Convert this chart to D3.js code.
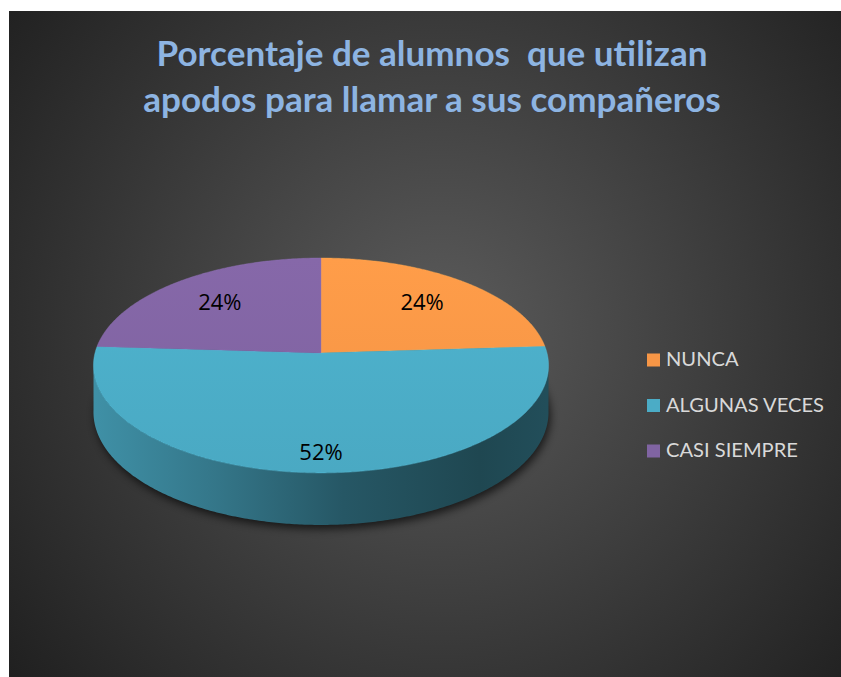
<!DOCTYPE html>
<html>
<head>
<meta charset="utf-8">
<script src="https://cdn.jsdelivr.net/npm/d3@7"></script>
<style>
  body { margin: 0; background: #fff; }
  svg { display: block; }
</style>
</head>
<body>
<svg id="chart" width="841" height="677"></svg>
<script>
// data
var categories = ["NUNCA", "ALGUNAS VECES", "CASI SIEMPRE"];
var values = [24, 52, 24];
var colors = ["#F79646", "#4BACC6", "#8064A2"];
var titleLines = ["Porcentaje de alumnos  que utilizan", "apodos para llamar a sus compañeros"];

var svg = d3.select("#chart");
var defs = svg.append("defs");

// panel background
var bg = defs.append("radialGradient")
  .attr("id", "bg")
  .attr("gradientUnits", "userSpaceOnUse")
  .attr("cx", 440).attr("cy", 330).attr("r", 560);
bg.append("stop").attr("offset", "0").attr("stop-color", "#5b5b5b");
bg.append("stop").attr("offset", "0.55").attr("stop-color", "#3a3a3a");
bg.append("stop").attr("offset", "1").attr("stop-color", "#1f1f1f");

svg.append("rect")
  .attr("x", 9).attr("y", 11)
  .attr("width", 832).attr("height", 666)
  .attr("fill", "url(#bg)");

// title
var title = svg.append("g")
  .attr("font-family", "Lato, 'Open Sans', sans-serif")
  .attr("font-weight", "bold")
  .attr("fill", "#8DB4E2")
  .attr("text-anchor", "middle");

var titleText = title.selectAll("text")
  .data(titleLines)
  .enter().append("text")
  .attr("x", 432)
  .attr("y", function(d, i) { return 66 + i * 46; })
  .style("white-space", "pre")
  .attr("font-size", 32)
  .text(function(d) { return d; });

// fit title size to the width of the original lines
var w0 = titleText.nodes()[0].getComputedTextLength();
var w1 = titleText.nodes()[1].getComputedTextLength();
var titleSize = 32 * ((549 / w0 + 580 / w1) / 2);
titleText.attr("font-size", titleSize);

// 3d pie projection (simple perspective on a tilted disc)
var cx = 321, cy = 353, A = 226, B = 106, k = 0.116, H = 46;

function proj(theta, r) {
  var sx = r * Math.sin(theta), sz = -r * Math.cos(theta);
  var w = 1 / (1 - k * sz);
  return [cx + A * sx * w, cy + B * sz * w, w];
}

function arcPoints(a0, a1, r, drop) {
  var n = Math.max(2, Math.ceil(Math.abs(a1 - a0) / 0.01));
  var pts = [];
  for (var i = 0; i <= n; i++) {
    var t = a0 + (a1 - a0) * i / n;
    var p = proj(t, r);
    pts.push([p[0], p[1] + (drop ? H * p[2] : 0)]);
  }
  return pts;
}

var line = d3.line();

var pie = d3.pie().sort(null).value(function(d) { return d; });
var arcs = pie(values);
var total = d3.sum(values);

// shadow under the pie
var blur = defs.append("filter").attr("id", "blur")
  .attr("x", "-20%").attr("y", "-20%").attr("width", "140%").attr("height", "140%");
blur.append("feGaussianBlur").attr("stdDeviation", 4);

svg.append("path")
  .attr("d", line(arcPoints(0, 2 * Math.PI, 1, true)) + "Z")
  .attr("transform", "translate(2,4)")
  .attr("fill", "#000")
  .attr("opacity", 0.65)
  .attr("filter", "url(#blur)");

// side walls (front half only)
var sideFrom = Math.acos(-k) - 0.02;
var sideTo = 2 * Math.PI - sideFrom;

arcs.forEach(function(d, i) {
  var a0 = Math.max(d.startAngle, sideFrom);
  var a1 = Math.min(d.endAngle, sideTo);
  if (a1 <= a0) return;
  var base = d3.color(colors[i]);
  var g = defs.append("linearGradient")
    .attr("id", "side" + i)
    .attr("gradientUnits", "userSpaceOnUse")
    .attr("x1", cx - A).attr("x2", cx + A).attr("y1", 0).attr("y2", 0);
  g.append("stop").attr("offset", "0").attr("stop-color", base.darker(0.5));
  g.append("stop").attr("offset", "0.25").attr("stop-color", base.darker(1.0));
  g.append("stop").attr("offset", "0.55").attr("stop-color", base.darker(1.9));
  g.append("stop").attr("offset", "0.85").attr("stop-color", base.darker(2.5));
  g.append("stop").attr("offset", "1").attr("stop-color", base.darker(2.2));

  var top = arcPoints(a0, a1, 1, false);
  var bot = arcPoints(a1, a0, 1, true);
  svg.append("path")
    .attr("d", line(top.concat(bot)) + "Z")
    .attr("fill", "url(#side" + i + ")");
});

// top faces
arcs.forEach(function(d, i) {
  var base = d3.color(colors[i]);
  var g = defs.append("linearGradient")
    .attr("id", "top" + i)
    .attr("gradientUnits", "userSpaceOnUse")
    .attr("x1", 0).attr("x2", 0).attr("y1", cy - 95).attr("y2", cy + 120);
  g.append("stop").attr("offset", "0").attr("stop-color", base.brighter(0.12));
  g.append("stop").attr("offset", "1").attr("stop-color", base.darker(0.05));

  var pts = [[cx, cy]].concat(arcPoints(d.startAngle, d.endAngle, 1, false));
  svg.append("path")
    .attr("d", line(pts) + "Z")
    .attr("fill", "url(#top" + i + ")")
    .attr("stroke", base.brighter(0.4))
    .attr("stroke-opacity", 0.5)
    .attr("stroke-width", 0.8)
    .attr("stroke-linejoin", "round");
});

// data labels
svg.append("g")
  .attr("font-family", "'Open Sans', sans-serif")
  .attr("font-size", 22)
  .attr("fill", "#000")
  .attr("text-anchor", "middle")
  .selectAll("text")
  .data(arcs)
  .enter().append("text")
  .attr("x", function(d) {
    var r = 0.56 + 0.55 * d.value / total;
    return proj((d.startAngle + d.endAngle) / 2, r)[0];
  })
  .attr("y", function(d) {
    var r = 0.56 + 0.55 * d.value / total;
    return proj((d.startAngle + d.endAngle) / 2, r)[1];
  })
  .attr("dy", "0.36em")
  .text(function(d) { return Math.round(d.value / total * 100) + "%"; });

// legend
var rowY = d3.scalePoint().domain(categories).range([366, 457]);

var legend = svg.append("g")
  .attr("font-family", "Lato, 'Open Sans', sans-serif")
  .attr("fill", "#d9d9d9");

var items = legend.selectAll("g")
  .data(categories)
  .enter().append("g");

items.append("rect")
  .attr("x", 647)
  .attr("y", function(d) { return rowY(d) - 12.5; })
  .attr("width", 13).attr("height", 13)
  .attr("fill", function(d, i) { return colors[i]; });

var legendText = items.append("text")
  .attr("x", 666)
  .attr("y", function(d) { return rowY(d); })
  .attr("font-size", 20)
  .text(function(d) { return d; });

var lw = legendText.nodes()[1].getComputedTextLength();
legendText.attr("font-size", 20 * 158 / lw);
</script>
</body>
</html>
